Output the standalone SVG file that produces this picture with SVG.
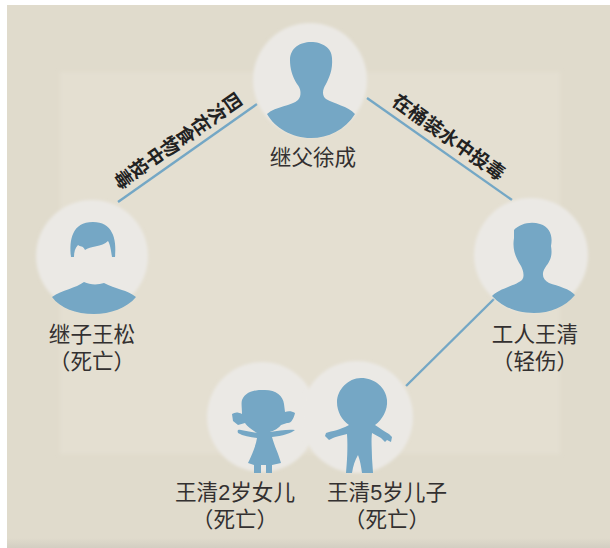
<svg xmlns="http://www.w3.org/2000/svg" width="610" height="548" viewBox="0 0 610 548">
<defs>
<filter id="soft" x="-10%" y="-10%" width="120%" height="120%"><feGaussianBlur stdDeviation="0.7"/></filter>
<filter id="halo" x="-10%" y="-10%" width="120%" height="120%"><feGaussianBlur stdDeviation="1.6"/></filter>
<filter id="pb" x="-5%" y="-5%" width="110%" height="110%"><feGaussianBlur stdDeviation="2"/></filter>
<linearGradient id="band" x1="0" y1="0" x2="0" y2="1"><stop offset="0" stop-color="#e0dbcc"/><stop offset="1" stop-color="#d3cec2"/></linearGradient>
</defs>
<style>
.halo{fill:#ebe9e5;filter:url(#halo)}
.fig{fill:#74a7c5;filter:url(#soft)}
.lbl{font-family:"Liberation Sans","Noto Sans CJK SC",sans-serif;font-size:21.6px;fill:#333030;text-anchor:middle}
.tag{font-family:"Liberation Sans","Noto Sans CJK SC",sans-serif;font-size:19px;font-weight:700;fill:#222;text-anchor:middle}
.v{writing-mode:vertical-rl}
.link{stroke:#74a7c5;stroke-width:2.4;fill:none}
</style>
<rect width="610" height="548" fill="#fff"/>
<rect x="7" y="5" width="603" height="543" fill="#e0dbcc"/>
<rect x="7" y="538" width="603" height="10" fill="url(#band)"/>
<rect x="60" y="72" width="500" height="382" fill="#e4dfd1" filter="url(#pb)"/>
<g id="connectors">
<line class="link" x1="118" y1="202" x2="257" y2="104"/>
<line class="link" x1="367" y1="98" x2="512" y2="200"/>
<line class="link" x1="406" y1="386" x2="494" y2="299"/>
</g>
<g id="edge-labels">
<text class="tag v" transform="translate(177 139) rotate(55)">四次在食物中投毒</text>
<text class="tag" transform="translate(449 137) rotate(35.5)" y="7">在桶装水中投毒</text>
</g>
<g id="stepfather">
<circle class="halo" cx="310" cy="80" r="57"/>
<path class="fig" d="M311 42C322 42 332 48 332 58C333 70 329 78 326 84C322 90 322 96 326 99C334 104 348 106 355 114C345 130 328 138 311 138C292 138 275 128 267 114C276 106 292 106 298 100C302 96 301 88 297 84C292 76 290 68 290 60C290 48 300 42 311 42Z"/>
<text class="lbl" x="313" y="165">继父徐成</text>
</g>
<g id="stepson">
<circle class="halo" cx="92" cy="256" r="56"/>
<path class="fig" d="M71 257C69 240 72 222 93 222C112 222 117 238 115 257L112 257C111 250 110 244 108 241C102 247 90 246 85 250C83 245 80 247 78 245C75 248 74 252 74 257Z"/>
<path class="fig" d="M52 297C62 290 76 288 84 282C90 285 98 285 104 283C115 289 128 290 136 297C127 308 110 314 94 314C76 314 60 308 52 297Z"/>
<text class="lbl" x="92" y="342">继子王松<tspan x="92" dy="27">（死亡）</tspan></text>
</g>
<g id="worker">
<circle class="halo" cx="531" cy="255" r="57"/>
<path class="fig" d="M514 230C520 224 530 221 540 224C550 227 553 236 551 246C553 258 549 262 545 268C541 274 543 280 549 283C558 286 570 289 575 295C565 307 550 313 534 313C517 313 502 307 492 296C500 288 515 286 522 280C525 276 523 270 521 266C516 258 512 250 514 238Z"/>
<text class="lbl" x="535" y="342">工人王清<tspan x="535" dy="27">（轻伤）</tspan></text>
</g>
<g id="daughter">
<circle class="halo" cx="262" cy="417" r="55"/>
<path class="fig" d="M262 390C275 389 283 395 284 404L285 412C288 411 292 411 295 413C294 418 291 424 287 423L281 425C277 430 272 431 270 432C278 431 288 429 295 430C292 433 282 436 272 437C274 445 279 455 281 463L272 465L272 473L266 473L266 465L261 465L261 473L254 473L254 465L248 463C252 455 256 445 257 438C250 437 243 436 238 433C237 430 238 429 241 430C246 431 252 432 257 433C252 430 247 426 245 423L238 425L233 421L232 414C235 412 238 412 242 414C242 408 241 403 242 400C245 393 252 390 262 390Z"/>
<text class="lbl" x="235" y="500">王清2岁女儿<tspan x="235" dy="27">（死亡）</tspan></text>
</g>
<g id="son">
<circle class="halo" cx="357" cy="417" r="56"/>
<path class="fig" d="M361 378C375 378 386 388 387 400C388 410 382 420 375 425C381 429 385 432 389 434L392 437L391 442L387 440L385 442L381 438L372 433C371 440 372 450 372 458L373 473H362C361 466 360 460 358 455C355 460 353 466 352 473H346C347 462 348 448 347 434C342 435 336 437 333 438L329 440L325 436L326 433C332 431 340 430 349 425C342 420 337 412 337 402C337 390 348 378 361 378Z"/>
<text class="lbl" x="387" y="500">王清5岁儿子<tspan x="387" dy="27">（死亡）</tspan></text>
</g>
</svg>
